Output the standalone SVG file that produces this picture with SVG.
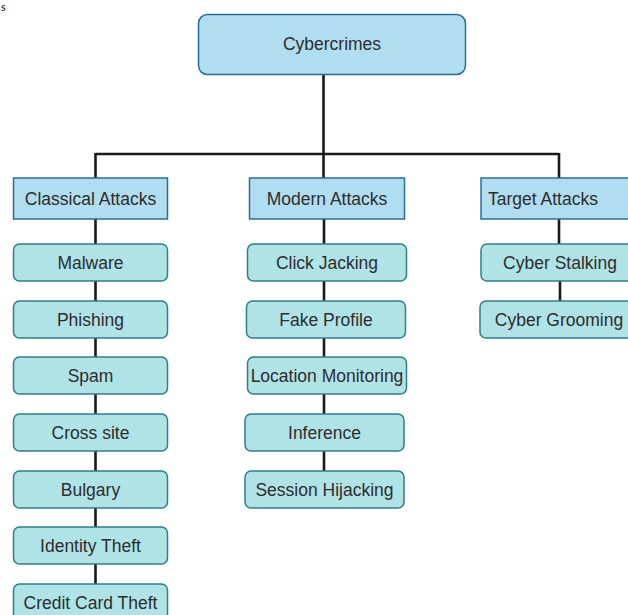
<svg xmlns="http://www.w3.org/2000/svg" width="628" height="615" viewBox="0 0 628 615">
<style>
.root{fill:#b1ddf0;stroke:#2a6f92;stroke-width:1.5}
.cat{fill:#b1ddf0;stroke:#2a6f92;stroke-width:1.5}
.leaf{fill:#b0e3e6;stroke:#2f7f86;stroke-width:1.5}
text{font-family:"Liberation Sans",Arial,sans-serif;font-size:17.5px;fill:#2d2d2d;text-anchor:middle}
.conn{stroke:#1a1a1a;stroke-width:2.6;fill:none}
</style>
<rect width="628" height="615" fill="#ffffff"/>
<text x="1" y="11" style="font-family:'Liberation Serif',serif;font-size:12px;fill:#000;text-anchor:start">s</text>
<g id="connectors">
<path class="conn" d="M323.5 74 V154 M95.5 154 H559 M95.5 153 V178 M323.5 153 V178 M559 153 V178"/>
<path class="conn" d="M95.5 219 V244 M95.5 281 V301 M95.5 338 V357 M95.5 394 V414 M95.5 451 V471 M95.5 508 V527 M95.5 564 V584"/>
<path class="conn" d="M324 219 V244 M324 281 V301 M324 338 V357 M324 394 V414 M324 451 V471"/>
<path class="conn" d="M559 219 V244 M560 281 V301"/>
</g>
<g id="cybercrimes"><rect class="root" x="198.5" y="14.5" width="267" height="60" rx="9"/><text x="332" y="50">Cybercrimes</text></g>
<g id="classical"><rect class="cat" x="13.5" y="178" width="154" height="41"/><text x="90.5" y="204.5">Classical Attacks</text></g>
<g id="modern"><rect class="cat" x="249.5" y="178" width="155" height="41"/><text x="327" y="204.5">Modern Attacks</text></g>
<g id="target"><rect class="cat" x="481" y="178" width="160" height="41"/><text x="543" y="204.5">Target Attacks</text></g>
<g id="malware"><rect class="leaf" x="13.5" y="244" width="154" height="37" rx="6"/><text x="90.5" y="268.5">Malware</text></g>
<g id="phishing"><rect class="leaf" x="13.5" y="301" width="154" height="37" rx="6"/><text x="90.5" y="325.5">Phishing</text></g>
<g id="spam"><rect class="leaf" x="13.5" y="357" width="154" height="37" rx="6"/><text x="90.5" y="381.5">Spam</text></g>
<g id="crosssite"><rect class="leaf" x="13.5" y="414" width="154" height="37" rx="6"/><text x="90.5" y="438.5">Cross site</text></g>
<g id="bulgary"><rect class="leaf" x="13.5" y="471" width="154" height="37" rx="6"/><text x="90.5" y="495.5">Bulgary</text></g>
<g id="identity"><rect class="leaf" x="13.5" y="527" width="154" height="37" rx="6"/><text x="90.5" y="551.5">Identity Theft</text></g>
<g id="creditcard"><rect class="leaf" x="13.5" y="584" width="154" height="37" rx="6"/><text x="90.5" y="608.5">Credit Card Theft</text></g>
<g id="clickjacking"><rect class="leaf" x="247.5" y="244" width="159" height="37" rx="6"/><text x="327" y="268.5">Click Jacking</text></g>
<g id="fakeprofile"><rect class="leaf" x="246.5" y="301" width="159" height="37" rx="6"/><text x="326" y="325.5">Fake Profile</text></g>
<g id="location"><rect class="leaf" x="247.5" y="357" width="159" height="37" rx="6"/><text x="327" y="381.5">Location Monitoring</text></g>
<g id="inference"><rect class="leaf" x="245" y="414" width="159" height="37" rx="6"/><text x="324.5" y="438.5">Inference</text></g>
<g id="session"><rect class="leaf" x="245" y="471" width="159" height="37" rx="6"/><text x="324.5" y="495.5">Session Hijacking</text></g>
<g id="stalking"><rect class="leaf" x="481" y="244" width="160" height="37" rx="6"/><text x="560" y="268.5">Cyber Stalking</text></g>
<g id="grooming"><rect class="leaf" x="480" y="301" width="160" height="37" rx="6"/><text x="559" y="325.5">Cyber Grooming</text></g>
</svg>
